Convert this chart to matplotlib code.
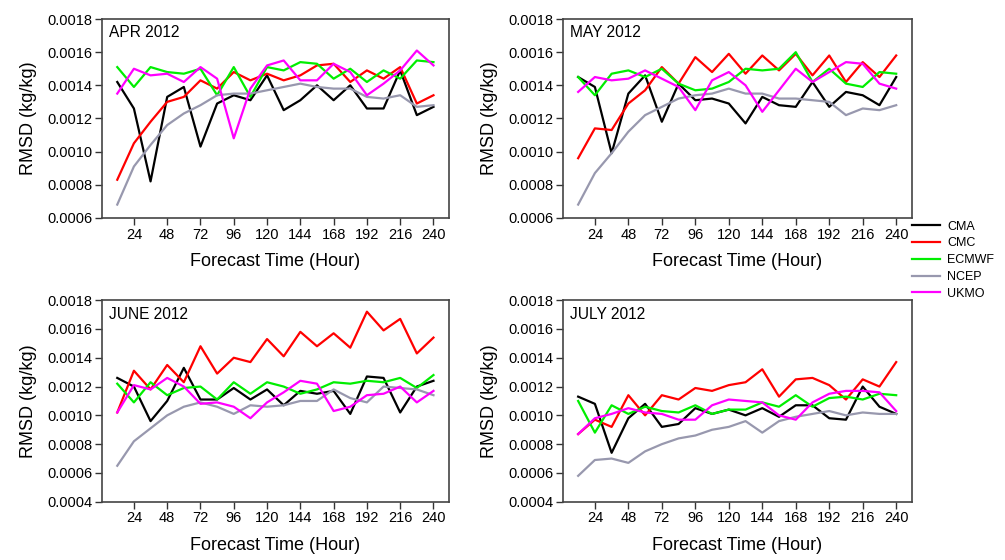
import matplotlib
matplotlib.use("Agg")
import matplotlib.pyplot as plt
from matplotlib.ticker import FormatStrFormatter

plt.rcParams['font.family'] = ['Liberation Sans', 'DejaVu Sans']

# forecast lead times (hours)
hours = [12, 24, 36, 48, 60, 72, 84, 96, 108, 120, 132, 144, 156, 168, 180, 192, 204, 216, 228, 240]
xticks = [24, 48, 72, 96, 120, 144, 168, 192, 216, 240]

models = ["CMA", "CMC", "ECMWF", "NCEP", "UKMO"]
colors = ["black", "#ff0000", "#00ee00", "#9898ae", "#ff00ff"]

# RMSD (kg/kg) per month
apr_cma = [0.00142, 0.00126, 0.00082, 0.00133, 0.00139, 0.00103, 0.00129, 0.00134, 0.00131, 0.00146,
           0.00125, 0.00131, 0.00140, 0.00131, 0.00140, 0.00126, 0.00126, 0.00149, 0.00122, 0.00127]
apr_cmc = [0.00083, 0.00105, 0.00118, 0.00130, 0.00133, 0.00143, 0.00138, 0.00148, 0.00143, 0.00147,
           0.00143, 0.00146, 0.00152, 0.00153, 0.00142, 0.00149, 0.00144, 0.00151, 0.00129, 0.00134]
apr_ecmwf = [0.00151, 0.00139, 0.00151, 0.00148, 0.00147, 0.00150, 0.00134, 0.00151, 0.00133, 0.00151,
             0.00149, 0.00154, 0.00153, 0.00144, 0.00150, 0.00142, 0.00149, 0.00144, 0.00155, 0.00154]
apr_ncep = [0.00068, 0.00091, 0.00104, 0.00116, 0.00123, 0.00128, 0.00134, 0.00135, 0.00135, 0.00137,
            0.00139, 0.00141, 0.00139, 0.00138, 0.00138, 0.00133, 0.00132, 0.00134, 0.00127, 0.00128]
apr_ukmo = [0.00135, 0.00150, 0.00146, 0.00147, 0.00142, 0.00151, 0.00144, 0.00108, 0.00138, 0.00152,
            0.00155, 0.00143, 0.00143, 0.00153, 0.00148, 0.00134, 0.00141, 0.00149, 0.00161, 0.00152]

may_cma = [0.00145, 0.00139, 0.00099, 0.00135, 0.00146, 0.00118, 0.00141, 0.00131, 0.00132, 0.00129,
           0.00117, 0.00133, 0.00128, 0.00127, 0.00142, 0.00127, 0.00136, 0.00134, 0.00128, 0.00145]
may_cmc = [0.00096, 0.00114, 0.00113, 0.00129, 0.00137, 0.00151, 0.00141, 0.00157, 0.00148, 0.00159,
           0.00147, 0.00158, 0.00149, 0.00159, 0.00146, 0.00158, 0.00142, 0.00154, 0.00145, 0.00158]
may_ecmwf = [0.00145, 0.00134, 0.00147, 0.00149, 0.00145, 0.00150, 0.00141, 0.00137, 0.00138, 0.00142,
             0.00150, 0.00149, 0.00150, 0.00160, 0.00142, 0.00150, 0.00141, 0.00139, 0.00148, 0.00147]
may_ncep = [0.00068, 0.00087, 0.00099, 0.00112, 0.00122, 0.00127, 0.00132, 0.00134, 0.00135, 0.00138,
            0.00135, 0.00135, 0.00132, 0.00132, 0.00131, 0.00130, 0.00122, 0.00126, 0.00125, 0.00128]
may_ukmo = [0.00136, 0.00145, 0.00143, 0.00144, 0.00149, 0.00144, 0.00139, 0.00125, 0.00143, 0.00148,
            0.00140, 0.00124, 0.00137, 0.00150, 0.00142, 0.00148, 0.00154, 0.00153, 0.00141, 0.00138]

jun_cma = [0.00126, 0.00120, 0.00096, 0.00110, 0.00133, 0.00111, 0.00111, 0.00119, 0.00111, 0.00118,
           0.00107, 0.00117, 0.00115, 0.00117, 0.00101, 0.00127, 0.00126, 0.00102, 0.00120, 0.00124]
jun_cmc = [0.00102, 0.00131, 0.00118, 0.00135, 0.00123, 0.00148, 0.00129, 0.00140, 0.00137, 0.00153,
           0.00141, 0.00158, 0.00148, 0.00157, 0.00147, 0.00172, 0.00159, 0.00167, 0.00143, 0.00154]
jun_ecmwf = [0.00122, 0.00109, 0.00123, 0.00114, 0.00119, 0.00120, 0.00111, 0.00123, 0.00115, 0.00123,
             0.00120, 0.00115, 0.00118, 0.00123, 0.00122, 0.00124, 0.00123, 0.00126, 0.00119, 0.00128]
jun_ncep = [0.00065, 0.00082, 0.00091, 0.00100, 0.00106, 0.00109, 0.00106, 0.00101, 0.00107, 0.00106,
            0.00107, 0.00110, 0.00110, 0.00118, 0.00112, 0.00109, 0.00120, 0.00119, 0.00118, 0.00114]
jun_ukmo = [0.00102, 0.00121, 0.00118, 0.00126, 0.00120, 0.00108, 0.00109, 0.00106, 0.00098, 0.00109,
            0.00116, 0.00124, 0.00122, 0.00103, 0.00106, 0.00114, 0.00115, 0.00120, 0.00109, 0.00117]

jul_cma = [0.00113, 0.00108, 0.00074, 0.00098, 0.00108, 0.00092, 0.00094, 0.00105, 0.00101, 0.00104,
           0.00100, 0.00105, 0.00099, 0.00107, 0.00107, 0.00098, 0.00097, 0.00120, 0.00106, 0.00101]
jul_cmc = [0.00087, 0.00097, 0.00092, 0.00114, 0.00100, 0.00114, 0.00111, 0.00119, 0.00117, 0.00121,
           0.00123, 0.00132, 0.00113, 0.00125, 0.00126, 0.00121, 0.00111, 0.00125, 0.00120, 0.00137]
jul_ecmwf = [0.00110, 0.00088, 0.00107, 0.00101, 0.00106, 0.00103, 0.00102, 0.00107, 0.00101, 0.00104,
             0.00104, 0.00109, 0.00106, 0.00114, 0.00106, 0.00112, 0.00113, 0.00111, 0.00115, 0.00114]
jul_ncep = [0.00058, 0.00069, 0.00070, 0.00067, 0.00075, 0.00080, 0.00084, 0.00086, 0.00090, 0.00092,
            0.00096, 0.00088, 0.00096, 0.00099, 0.00101, 0.00103, 0.00100, 0.00102, 0.00101, 0.00101]
jul_ukmo = [0.00087, 0.00098, 0.00101, 0.00105, 0.00102, 0.00101, 0.00097, 0.00097, 0.00107, 0.00111,
            0.00110, 0.00109, 0.00100, 0.00097, 0.00109, 0.00115, 0.00117, 0.00117, 0.00116, 0.00103]

panels = [
    ("APR 2012", [apr_cma, apr_cmc, apr_ecmwf, apr_ncep, apr_ukmo], (0.0006, 0.0018)),
    ("MAY 2012", [may_cma, may_cmc, may_ecmwf, may_ncep, may_ukmo], (0.0006, 0.0018)),
    ("JUNE 2012", [jun_cma, jun_cmc, jun_ecmwf, jun_ncep, jun_ukmo], (0.0004, 0.0018)),
    ("JULY 2012", [jul_cma, jul_cmc, jul_ecmwf, jul_ncep, jul_ukmo], (0.0004, 0.0018)),
]

# axes boxes [left, bottom, width, height] in figure fraction
boxes = [
    [0.1015, 0.611, 0.345, 0.355],
    [0.560, 0.611, 0.347, 0.355],
    [0.1015, 0.104, 0.345, 0.360],
    [0.560, 0.104, 0.347, 0.360],
]

fig = plt.figure(figsize=(10.05, 5.6), dpi=100)

for (title, series, ylim), box in zip(panels, boxes):
    ax = fig.add_axes(box)
    for name, vals, c in zip(models, series, colors):
        ax.plot(hours, vals, color=c, lw=1.6, label=name)
    ax.set_xlim(1, 251)
    ax.set_ylim(*ylim)
    ax.set_xticks(xticks)
    ax.set_yticks([v / 10000 for v in range(int(round(ylim[0] * 10000)), 19, 2)])
    ax.yaxis.set_major_formatter(FormatStrFormatter('%.4f'))
    ax.tick_params(direction='out', length=5, width=1, colors='#333333', labelsize=10.5,
                   labelcolor='black', pad=2)
    for sp in ax.spines.values():
        sp.set_color('#444444')
        sp.set_linewidth(1.2)
    ax.set_xlabel("Forecast Time (Hour)", fontsize=13, labelpad=8)
    ax.set_ylabel("RMSD (kg/kg)", fontsize=13, labelpad=7)
    ax.text(0.02, 0.93, title, transform=ax.transAxes, fontsize=11.2, va='center', ha='left')

handles, labels = ax.get_legend_handles_labels()
fig.legend(handles, labels, loc='upper left', bbox_to_anchor=(0.896, 0.626), frameon=False,
           fontsize=9, handlelength=2.3, handletextpad=0.55, labelspacing=0.38)

fig.savefig("out.png", dpi=100)
